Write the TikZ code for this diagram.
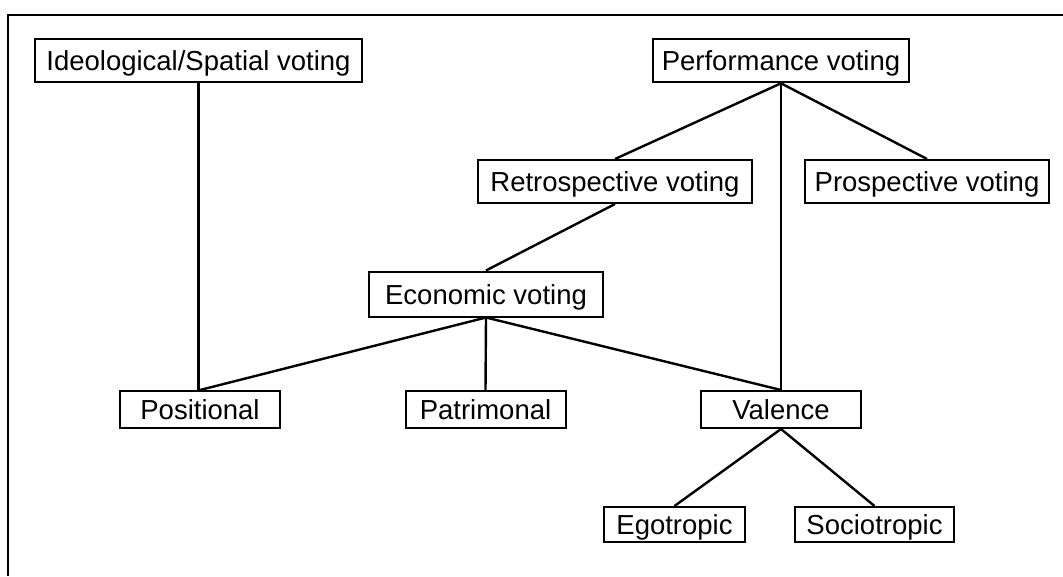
\documentclass[tikz,border=0pt]{standalone}
\usepackage{fontspec}
\setmainfont{Liberation Sans}
\begin{document}
\begin{tikzpicture}[x=1pt,y=-1pt,
  lbox/.style={draw, line width=2pt, inner sep=0pt, font=\fontsize{27.5}{33}\selectfont, text height=25.5pt, text depth=5.5pt},
  conn/.style={line width=2.4pt}]
\useasboundingbox (0,0) rectangle (1063,576);
\draw[line width=2.4pt] (8,576) -- (8,15) -- (1063,15);
\node[lbox, minimum width=327pt, minimum height=43pt] (ideo) at (198.5,60.8) {Ideological/Spatial voting};
\node[lbox, minimum width=256pt, minimum height=43pt] (perf) at (781,60.8) {Performance voting};
\node[lbox, minimum width=274pt, minimum height=43pt] (retro) at (615,181.5) {Retrospective voting};
\node[lbox, minimum width=244pt, minimum height=43pt] (pros) at (927,181.5) {Prospective voting};
\node[lbox, minimum width=234pt, minimum height=45pt] (econ) at (486,294) {Economic voting};
\node[lbox, minimum width=160pt, minimum height=37pt] (posi) at (200,409.5) {Positional};
\node[lbox, minimum width=160pt, minimum height=37pt] (patr) at (485.5,409.5) {Patrimonal};
\node[lbox, minimum width=160pt, minimum height=37pt] (vale) at (781,409.5) {Valence};
\node[lbox, minimum width=141pt, minimum height=35pt] (ego) at (674.5,524.5) {Egotropic};
\node[lbox, minimum width=159pt, minimum height=35pt] (socio) at (874.5,524.5) {Sociotropic};
\draw[conn] (ideo.south) -- (ideo.south |- posi.north);
\draw[conn] (perf.south) -- (retro.north);
\draw[conn] (perf.south) -- (pros.north);
\draw[conn] (perf.south) -- (vale.north);
\draw[conn] (retro.south) -- (econ.north);
\draw[conn] (econ.south) -- (posi.north);
\draw[conn] (econ.south) -- (patr.north);
\draw[conn] (econ.south) -- (vale.north);
\draw[conn] (vale.south) -- (ego.north);
\draw[conn] (vale.south) -- (socio.north);
\end{tikzpicture}
\end{document}
